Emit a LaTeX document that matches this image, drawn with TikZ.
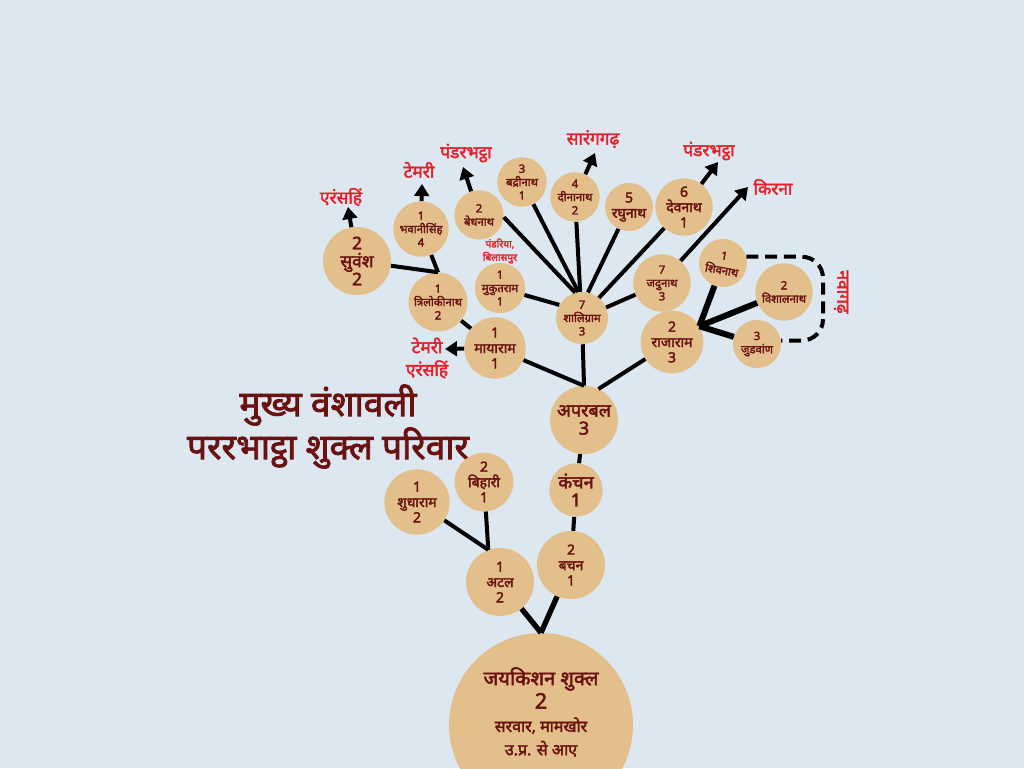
\documentclass[tikz,border=0pt]{standalone}
\usepackage{fontspec}
\usepackage{xcolor}
\usetikzlibrary{arrows.meta}
\newfontfamily\deva[Script=Devanagari, AutoFakeBold=2.5]{Noto Sans}
\definecolor{bgblue}{HTML}{DDE7F0}
\definecolor{disc}{HTML}{E3BF8C}
\definecolor{namebrown}{HTML}{6A1212}
\definecolor{placered}{HTML}{E4202B}

\begin{document}
\begin{tikzpicture}[x=0.75pt,y=-0.75pt]
	\tikzset{Person/.style = {circle, fill=disc, text=namebrown, align=center, inner sep=0pt, minimum size=#1},
	Small/.style = {font=\deva\bfseries\fontsize{8.5}{10}\selectfont},
	Mid/.style = {font=\deva\bfseries\fontsize{10.5}{11.5}\selectfont},
	Big/.style = {font=\deva\bfseries\fontsize{13.5}{13.5}\selectfont},
	Place/.style = {text=placered, align=center, inner sep=0pt, font=\deva\bfseries\fontsize{13}{17}\selectfont},
	Title/.style = {text=namebrown, inner sep=0pt, font=\deva\bfseries\fontsize{26.5}{30}\selectfont},
	Link/.style = {line width=3pt},
	Goes/.style = {line width=3pt, -{Triangle[width=11pt,length=9pt]}},
	Bracket/.style = {line width=3pt, dash pattern=on 9pt off 5pt, rounded corners=16pt}}
	\clip (0,0) rectangle (1024,768);
	\fill[bgblue] (0,0) rectangle (1024,768);
	%\node[Title] at (328,380) {};
	\node[Title] (titleA) at (328,405) {मुख्य वंशावली};
	\node[Title] (titleB) at (328,448) {पररभाट्ठा शुक्ल परिवार};
	\node[Person=138pt] (root) at (541,725) {};
	\node[text=namebrown, align=center, inner sep=0pt, font=\deva\bfseries\fontsize{12}{17.5}\selectfont] (rootname) at (541,712)
		{{\fontsize{15}{15}\selectfont जयकिशन शुक्ल}\\{\fontsize{16}{15}\selectfont 2}\\सरवार, मामखोर\\उ.प्र. से आए};
	\node[Person=51pt, Mid] (atal) at (500,582) {1\\अटल\\2};
	\node[Person=51pt, Mid] (bachan) at (571,565) {2\\बचन\\1};
	\node[Person=40pt, Big] (kanchan) at (576,490) {कंचन\\1};
	\node[Person=51pt, Big] (aparbal) at (584,420) {अपरबल\\3};
	\node[Person=49pt, Mid] (shudha) at (417,502) {1\\शुधाराम\\2};
	\node[Person=44pt, Mid] (bihari) at (484,482) {2\\बिहारी\\1};
	\node[Person=46pt, Mid] (maya) at (495,348) {1\\मायाराम\\1};
	\node[Person=42pt, Small] (trilok) at (438,302) {1\\त्रिलोकीनाथ\\2};
	\node[Person=51pt, Big, font=\deva\bfseries\fontsize{13}{13.5}\selectfont] (suvansh) at (357,261) {2\\सुवंश\\2};
	\node[Person=40pt, Small] (bhavani) at (421,229) {1\\भवानीसिंह\\4};
	\node[Person=37pt, Small] (bedh) at (479,215) {2\\बेधनाथ};
	\node[Person=37pt, Small] (badri) at (522,182) {3\\बद्रीनाथ\\1};
	\node[Person=37pt, Small] (dina) at (575,197) {4\\दीनानाथ\\2};
	\node[Person=36pt, Mid] (raghu) at (629,207) {5\\रघुनाथ};
	\node[Person=43pt, Mid] (dev) at (684,207) {6\\देवनाथ\\1};
	\node[Person=37pt, Small] (mukut) at (500,288) {1\\मुकुतराम\\1};
	\node[Person=39pt, Small] (shal) at (582,318) {7\\शालिग्राम\\3};
	\node[Person=43pt, Small] (jadu) at (662,283) {7\\जदुनाथ\\3};
	\node[Person=47pt, Mid] (raja) at (672,342) {2\\राजाराम\\3};
	\node[Person=36pt, Small, rotate=-10] (shiv) at (723,263) {1\\[1pt]शिवनाथ};
	\node[Person=43pt, Small] (vishal) at (784,292) {2\\विशालनाथ};
	\node[Person=36pt, Small] (judvan) at (757,344) {3\\जुडवांण};
	\draw[Link, line width=4pt] (root.north) -- (atal);
	\draw[Link, line width=4pt] (root.north) -- (bachan);
	\draw[Link] (atal.110) -- (shudha);
	\draw[Link] (atal.110) -- (bihari);
	\draw[Link] (bachan) -- (kanchan);
	\draw[Link] (kanchan) -- (aparbal);
	\draw[Link] (aparbal.north) -- (maya);
	\draw[Link] (aparbal.north) -- (shal);
	\draw[Link] (aparbal.65) -- (raja);
	\draw[Link] (maya) -- (trilok);
	\draw[Link] (trilok.north) -- (suvansh);
	\draw[Link] (trilok.north) -- (bhavani);
	\draw[Link] (mukut) -- (shal.150);
	\draw[Link] (shal.105) -- (bedh.-5);
	\foreach \who/\ang in {badri/98, dina/94, raghu/77, dev/50}
		\draw[Link] (shal.\ang) -- (\who);
	\draw[Link] (shal) -- (jadu);
	\foreach \who in {shiv, vishal, judvan}
		\draw[Link, line width=4.5pt] (raja.30) -- (\who);
	\coordinate (bend) at (823,300);
	\draw[Bracket] (shiv.25) -| (bend) |- (judvan.8);
	\coordinate (suvanshTo) at (348,207);
	\coordinate (bhavaniTo) at (422,184);
	\coordinate (bedhTo) at (463,167);
	\coordinate (dinaTo) at (595,153);
	\coordinate (devTo) at (718,162);
	\coordinate (kirnaTo) at (748,187);
	\coordinate (mayaTo) at (445,349);
	\draw[Goes] (suvansh) -- (suvanshTo);
	\draw[Goes] (bhavani) -- (bhavaniTo);
	\draw[Goes] (bedh) -- (bedhTo);
	\draw[Goes] (dina) -- (dinaTo);
	\draw[Goes] (dev) -- (devTo);
	\draw[Goes] (jadu.50) -- (kirnaTo);
	\draw[Goes] (maya) -- (mayaTo);
	\node[Place] (suvanshPlace) at (341,197) {एरंसहिं};
	\node[Place] (bhavaniPlace) at (419,170) {टेमरी};
	\node[Place] (bedhPlace) at (466,153) {पंडरभट्ठा};
	\node[Place] (dinaPlace) at (593,139) {सारंगगढ़};
	\node[Place] (devPlace) at (709,151) {पंडरभट्ठा};
	\node[Place] (kirnaPlace) at (773,187) {किरना};
	\node[Place] (mayaPlace) at (427,358) {टेमरी\\एरंसहिं};
	\node[Place, font=\deva\bfseries\fontsize{7.5}{10}\selectfont] (mukutPlace) at (500,251) {पंडरिया,\\बिलासपुर};
	\node[Place, rotate=-90] (navagarh) at (841,292) {नवागढ़};
\end{tikzpicture}
\end{document}
